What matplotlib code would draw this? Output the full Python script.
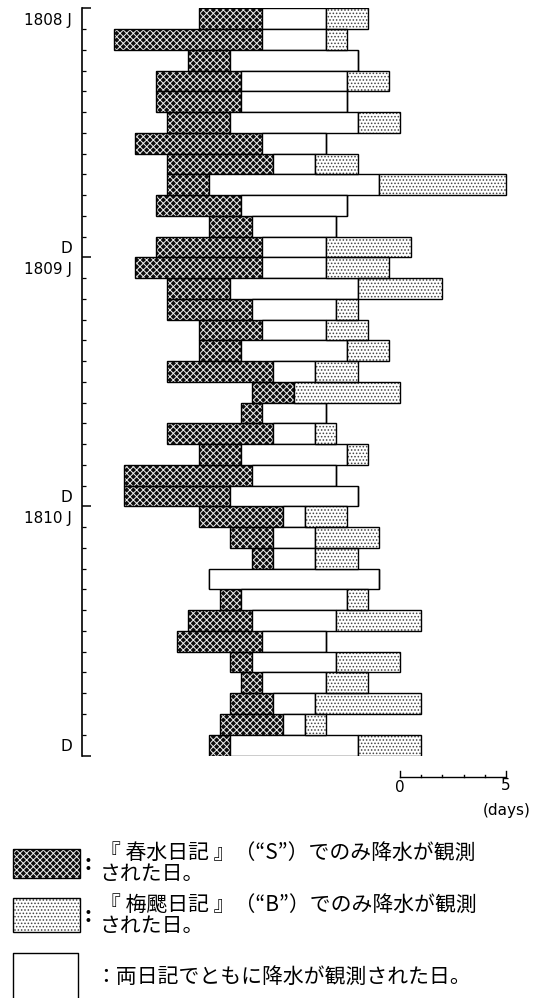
import matplotlib
matplotlib.use("Agg")
import matplotlib.pyplot as plt
from matplotlib.patches import Rectangle

plt.rcParams["font.family"] = ["DejaVu Sans"]
plt.rcParams["hatch.linewidth"] = 0.7

# days of rain per month, 1808 Jan .. 1810 Dec
s_only = [3, 7, 2, 4, 4, 3, 6, 5, 2, 4, 2, 5,
          6, 3, 4, 3, 2, 5, 2, 1, 5, 2, 6, 5,
          4, 2, 1, 0, 1, 3, 4, 1, 1, 2, 3, 1]
both = [3, 3, 6, 5, 5, 6, 3, 2, 8, 5, 4, 3,
        3, 6, 4, 3, 5, 2, 0, 3, 2, 5, 4, 6,
        1, 2, 2, 8, 5, 4, 3, 4, 3, 2, 1, 6]
b_only = [2, 1, 0, 2, 0, 2, 0, 2, 6, 0, 0, 4,
          3, 4, 1, 2, 2, 2, 5, 0, 1, 1, 0, 0,
          2, 3, 2, 0, 1, 4, 0, 3, 2, 5, 1, 3]
years = [1808, 1809, 1810]

legend_s = ["『 春水日記 』（“S”）でのみ降水が観測", "された日。"]
legend_b = ["『 梅颸日記 』（“B”）でのみ降水が観測", "された日。"]
legend_both = "：両日記でともに降水が観測された日。"
jp = ["Noto Sans CJK JP", "DejaVu Sans"]

W, H = 542, 998
fig = plt.figure(figsize=(W / 100, H / 100), dpi=100)

def fx(px):
    return px / W

def fy(py):
    return 1 - py / H

# pixel layout of the plotting area
x0, center, ppd = 82, 294, 21.2
top, bottom = 8.3, 755.5
ax = fig.add_axes([fx(x0), fy(bottom), fx(W - x0), (bottom - top) / H])
ax.set_xlim((x0 - center) / ppd, (W - center) / ppd)
n = len(both)
ax.set_ylim(n, 0)
row_px = (bottom - top) / n

rows = [i + 0.5 for i in range(n)]
half = [b / 2 for b in both]
left_s = [-h - s for h, s in zip(half, s_only)]
left_w = [-h for h in half]

DARK = ("#0d0d0d", "xxxxx", "#f0f0f0")
LIGHT = ("white", ".....", "#444444")

def hatched(lefts, widths, style):
    face, hatch, hcolor = style
    ax.barh(rows, widths, left=lefts, height=1.0, color=face, edgecolor=hcolor,
            hatch=hatch, linewidth=0)
    ax.barh(rows, widths, left=lefts, height=1.0, facecolor="none",
            edgecolor="black", linewidth=1.0)

hatched(left_s, s_only, DARK)
ax.barh(rows, both, left=left_w, height=1.0, facecolor="white",
        edgecolor="black", linewidth=1.0)
hatched(half, b_only, LIGHT)

# left bracket axis
for side in ["top", "right", "bottom"]:
    ax.spines[side].set_visible(False)
ax.spines["left"].set_linewidth(1.2)
ax.set_xticks([])
lab_rows, labs = [], []
for k, y in enumerate(years):
    lab_rows += [12 * k + 0.5, 12 * k + 11.5]
    labs += [f"{y} J", "D"]
ax.set_yticks(lab_rows, labs)
ax.tick_params(axis="y", which="major", length=0, pad=7, labelsize=11)
ax.set_yticks([i for i in range(1, n) if i % 12], minor=True)
ax.tick_params(axis="y", which="minor", direction="in", length=3, width=0.9)
ax.hlines([0, 12, 24, 36], 0, 9 / (W - x0), transform=ax.get_yaxis_transform(),
          color="black", linewidth=1.1, clip_on=False)

# scale bar 0-5 days
sy = (777 - top) / row_px
sx = 5
ax.plot([sx, sx + 5], [sy, sy], color="black", linewidth=1.0, clip_on=False)
for d in range(6):
    h = 6 if d in (0, 5) else 2.5
    ax.plot([sx + d, sx + d], [sy, sy - h / row_px], color="black",
            linewidth=1.0, clip_on=False)
ax.text(sx, (787 - top) / row_px, "0", ha="center", va="center", fontsize=11,
        clip_on=False)
ax.text(sx + 5, (786 - top) / row_px, "5", ha="center", va="center", fontsize=11,
        clip_on=False)
ax.text(sx + 5.05, (811 - top) / row_px, "(days)", ha="center", va="center",
        fontsize=11, clip_on=False)

# legend
def swatch(y0, y1, style):
    face, hatch, hcolor = style
    r = Rectangle((fx(13), fy(y1)), (80 - 13) / W, (y1 - y0) / H,
                  transform=fig.transFigure, facecolor=face, edgecolor=hcolor,
                  hatch=hatch, linewidth=0)
    fig.add_artist(r)
    r = Rectangle((fx(13), fy(y1)), (80 - 13) / W, (y1 - y0) / H,
                  transform=fig.transFigure, facecolor="none", edgecolor="black",
                  linewidth=1.0)
    fig.add_artist(r)

swatch(849, 878, DARK)
swatch(898, 932, LIGHT)
fig.add_artist(plt.Line2D([fx(13), fx(13), fx(78), fx(78)],
                          [fy(1005), fy(953), fy(953), fy(1005)],
                          color="black", linewidth=1.0))

for (l1, l2), yc in [(legend_s, 863), (legend_b, 915)]:
    fig.text(fx(88), fy(yc), ":", ha="center", va="center", fontsize=15,
             family=jp, fontweight="bold")
    fig.text(fx(100), fy(yc - 10), l1, ha="left", va="center", fontsize=15,
             family=jp)
    fig.text(fx(100), fy(yc + 11), l2, ha="left", va="center", fontsize=15,
             family=jp)
fig.text(fx(95), fy(977), legend_both, ha="left", va="center", fontsize=15,
         family=jp)

fig.savefig("out.png", dpi=100)
